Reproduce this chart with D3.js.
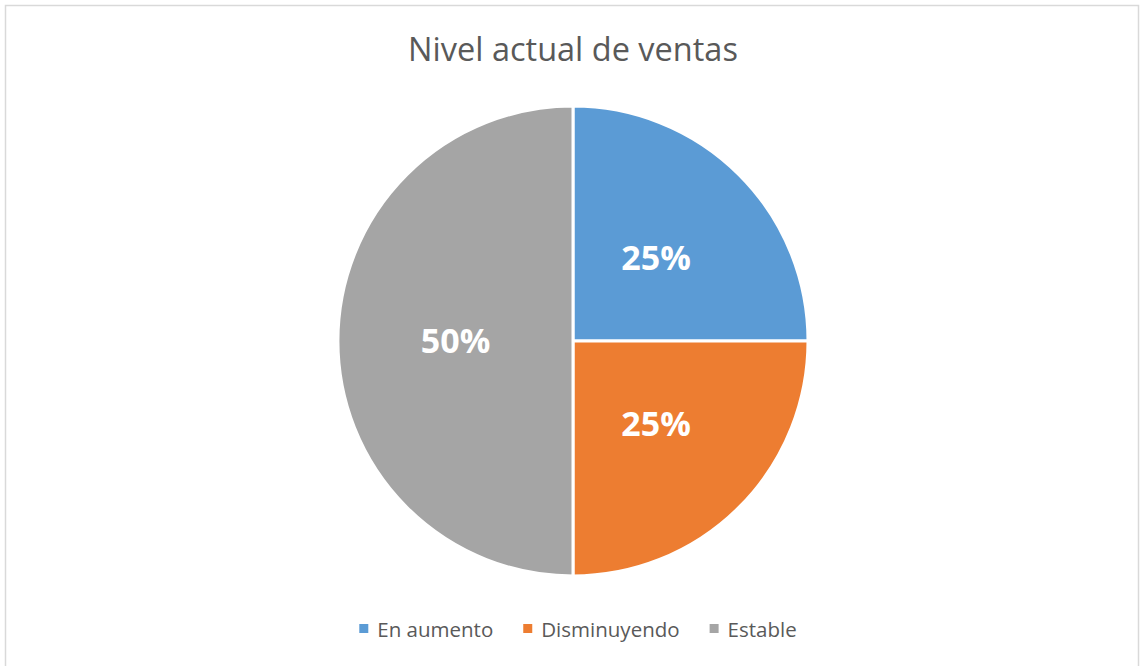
<!DOCTYPE html>
<html>
<head>
<meta charset="utf-8">
<script src="https://cdn.jsdelivr.net/npm/d3@7"></script>
<style>
  body { margin: 0; background: #fff; }
  svg { display: block; }
  text { font-family: "Open Sans", "Noto Sans", sans-serif; }
</style>
</head>
<body>
<svg id="chart" width="1140" height="666"></svg>
<script>
// data
const categories = ["En aumento", "Disminuyendo", "Estable"];
const values = [25, 25, 50];
const colors = ["#5B9BD5", "#ED7D31", "#A5A5A5"];
const title = "Nivel actual de ventas";

const width = 1140, height = 666;
const cx = 573, cy = 341, radius = 235;

const svg = d3.select("#chart");

// frame
svg.append("rect")
    .attr("x", 5.5).attr("y", 5.5)
    .attr("width", 1133).attr("height", 670)
    .attr("fill", "#fff")
    .attr("stroke", "#d9d9d9")
    .attr("stroke-width", 1.5);

// title
svg.append("text")
    .attr("x", cx).attr("y", 61)
    .attr("text-anchor", "middle")
    .attr("font-size", 32.5)
    .attr("fill", "#595959")
    .text(title);

const pie = d3.pie().sort(null).value(d => d);
const arcs = pie(values);
const arc = d3.arc().innerRadius(0).outerRadius(radius);
const labelArc = d3.arc().innerRadius(radius * 0.5).outerRadius(radius * 0.5);

const g = svg.append("g").attr("transform", `translate(${cx},${cy})`);

g.selectAll("path.slice")
    .data(arcs)
    .join("path")
    .attr("class", "slice")
    .attr("d", arc)
    .attr("fill", (d, i) => colors[i])
    .attr("stroke", "#fff")
    .attr("stroke-width", 3)
    .attr("stroke-linejoin", "round");

const fmt = d3.format(".0%");
const total = d3.sum(values);
g.selectAll("text.lbl")
    .data(arcs)
    .join("text")
    .attr("class", "lbl")
    .attr("transform", d => `translate(${labelArc.centroid(d)})`)
    .attr("text-anchor", "middle")
    .attr("dy", "0.36em")
    .attr("font-size", 34)
    .attr("font-weight", "bold")
    .attr("fill", "#fff")
    .text(d => fmt(d.value / total));

// legend
const legend = svg.append("g").attr("transform", "translate(0,637)");
const items = legend.selectAll("g.item")
    .data(categories)
    .join("g")
    .attr("class", "item");

items.append("rect")
    .attr("y", -13)
    .attr("width", 9).attr("height", 9)
    .attr("fill", (d, i) => colors[i]);

items.append("text")
    .attr("x", 18)
    .attr("font-size", 20.5)
    .attr("fill", "#595959")
    .text(d => d);

// lay out legend items centred
let widths = [];
items.each(function () {
    widths.push(18 + d3.select(this).select("text").node().getComputedTextLength());
});
const gap = 30;
const totalW = d3.sum(widths) + gap * (widths.length - 1);
let xPos = 578 - totalW / 2;
items.attr("transform", (d, i) => {
    const t = `translate(${xPos},0)`;
    xPos += widths[i] + gap;
    return t;
});
</script>
</body>
</html>
